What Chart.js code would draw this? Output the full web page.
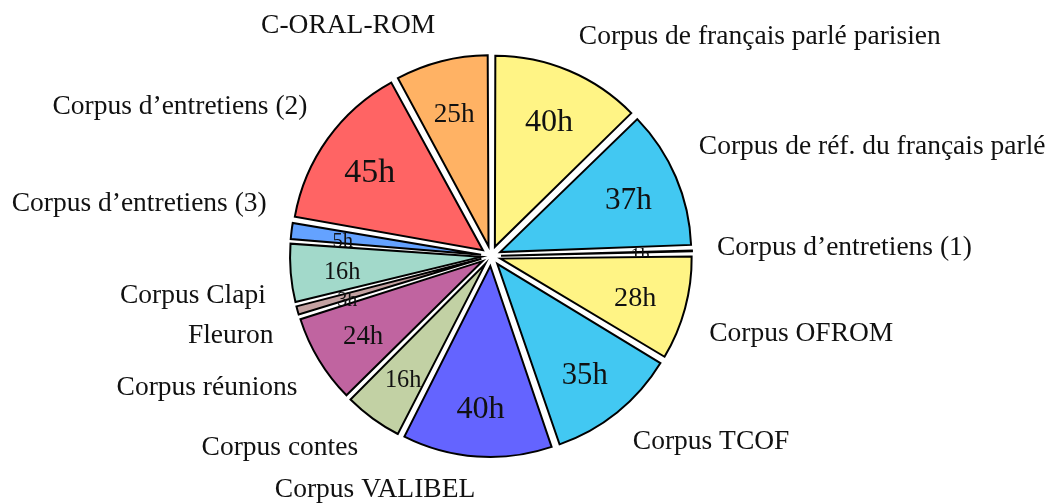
<!DOCTYPE html>
<html>
<head>
<meta charset="utf-8">
<script src="https://cdn.jsdelivr.net/npm/chart.js@4/dist/chart.umd.min.js"></script>
<style>
  body { margin: 0; background: #fff; }
  #wrap { width: 1055px; height: 504px; position: relative; }
</style>
</head>
<body>
<div id="wrap"><canvas id="corpusPie"></canvas></div>
<script>
// corpus names, clockwise from 12 o'clock
const corpora = [
    'Corpus de français parlé parisien',
    'Corpus de réf. du français parlé',
    'Corpus d’entretiens (1)',
    'Corpus OFROM',
    'Corpus TCOF',
    'Corpus VALIBEL',
    'Corpus contes',
    'Corpus réunions',
    'Fleuron',
    'Corpus Clapi',
    'Corpus d’entretiens (3)',
    'Corpus d’entretiens (2)',
    'C-ORAL-ROM'
];
// hours of recording
const hours = [40, 37, 1, 28, 35, 40, 16, 24, 3, 16, 5, 45, 25];
const sliceColors = [
    '#fff485', '#42c8f2', '#6464ff', '#fff485', '#42c8f2', '#6464ff', '#c2d1a4',
    '#c064a0', '#c4a2a2', '#a2d9ca', '#64a2ff', '#ff6464', '#ffb264'
];

const RADIUS = 191;
const OFFSET = 40;   // chart.js divides this by 4 -> 10px explode
const FONT = '"Liberation Serif", "DejaVu Serif", serif';

// keep every slice on the same outer radius (chart.js pushes thin slices out)
const radiusFix = {
    id: 'radiusFix',
    beforeDatasetsDraw(chart) {
        chart.getDatasetMeta(0).data.forEach(arc => {
            const circ = arc.endAngle - arc.startAngle;
            const fix = 1 - Math.sin(Math.min(Math.PI, circ));
            arc.outerRadius = RADIUS - (OFFSET / 4) * fix;
        });
    }
};

function slicePath(ctx, arc) {
    const mid = (arc.startAngle + arc.endAngle) / 2;
    const cx = arc.x + Math.cos(mid) * OFFSET / 4;
    const cy = arc.y + Math.sin(mid) * OFFSET / 4;
    ctx.moveTo(cx, cy);
    ctx.arc(cx, cy, RADIUS, arc.startAngle, arc.endAngle);
    ctx.closePath();
}

const sliceLabels = {
    id: 'sliceLabels',
    afterDatasetsDraw(chart) {
        const ctx = chart.ctx;
        const arcs = chart.getDatasetMeta(0).data;
        const d = OFFSET / 4;

        arcs.forEach((arc, i) => {
            const mid = (arc.startAngle + arc.endAngle) / 2;
            const cos = Math.cos(mid), sin = Math.sin(mid);

            // value inside, hidden under the slices drawn after it
            ctx.save();
            ctx.beginPath();
            ctx.rect(0, 0, chart.width, chart.height);
            for (let j = i + 1; j < arcs.length; j++) slicePath(ctx, arcs[j]);
            ctx.clip('evenodd');
            const r = d + RADIUS * 0.73;
            ctx.font = (19 + 0.33 * hours[i]).toFixed(1) + 'px ' + FONT;
            ctx.fillStyle = '#111';
            ctx.textAlign = 'center';
            ctx.textBaseline = 'middle';
            ctx.fillText(hours[i] + 'h', arc.x + cos * r, arc.y + sin * r + 4);
            ctx.restore();

            // name outside, nudged away from the horizontal axis
            const phi = Math.abs(Math.asin(sin)) * 180 / Math.PI;
            let shift = 0;
            if (phi > 3 && phi < 60) shift = 24 * (1 - phi / 60) * Math.sign(sin);
            const lx = arc.x + cos * 226;
            const ly = arc.y + sin * 236 + shift - 2;
            ctx.save();
            ctx.font = '27.5px ' + FONT;
            ctx.fillStyle = '#111';
            ctx.textBaseline = 'middle';
            ctx.textAlign = cos >= 0 ? 'left' : 'right';
            ctx.fillText(corpora[i], lx, ly);
            ctx.restore();
        });
    }
};

new Chart(document.getElementById('corpusPie'), {
    type: 'pie',
    data: {
        labels: corpora,
        datasets: [{
            data: hours,
            backgroundColor: sliceColors,
            borderColor: '#000',
            borderWidth: 2,
            borderJoinStyle: 'miter',
            offset: OFFSET
        }]
    },
    options: {
        responsive: true,
        maintainAspectRatio: false,
        animation: false,
        radius: RADIUS,
        layout: { padding: { left: 0, right: 73, top: 8, bottom: 0 } },
        plugins: {
            legend: { display: false },
            tooltip: { enabled: false }
        }
    },
    plugins: [radiusFix, sliceLabels]
});
</script>
</body>
</html>
